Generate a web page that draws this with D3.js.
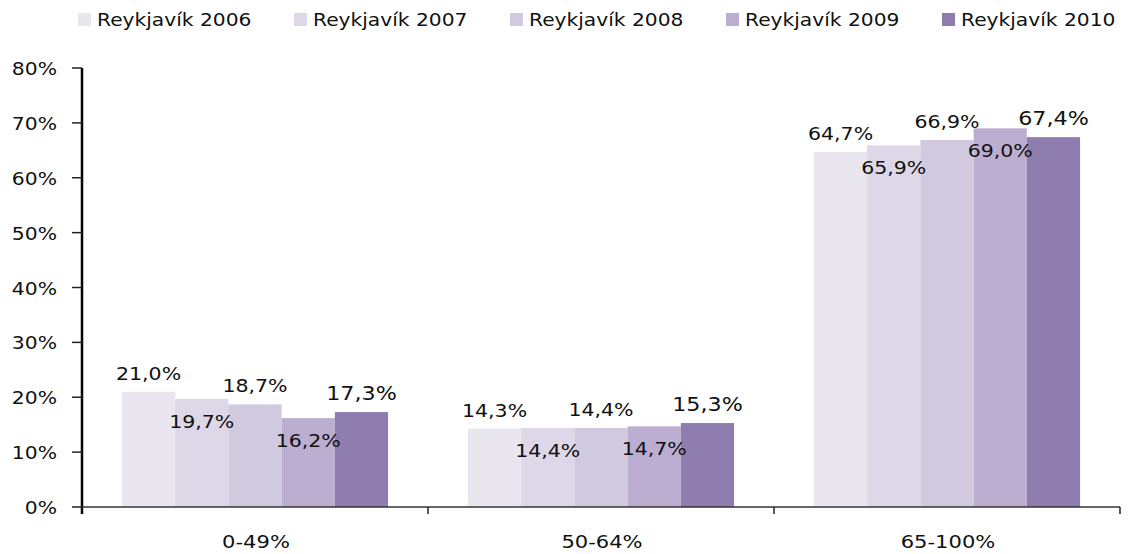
<!DOCTYPE html>
<html>
<head>
<meta charset="utf-8">
<script src="https://cdn.jsdelivr.net/npm/d3@7"></script>
<style>
  body { margin: 0; background: #fff; }
  svg text { font-family: "DejaVu Sans", Verdana, sans-serif; fill: #111; }
</style>
</head>
<body>
<svg id="chart" width="1130" height="554"></svg>
<script>
// data
const categories = ["0-49%", "50-64%", "65-100%"];
const seriesNames = ["Reykjavík 2006", "Reykjavík 2007", "Reykjavík 2008", "Reykjavík 2009", "Reykjavík 2010"];
const v2006 = [21.0, 14.3, 64.7];
const v2007 = [19.7, 14.4, 65.9];
const v2008 = [18.7, 14.4, 66.9];
const v2009 = [16.2, 14.7, 69.0];
const v2010 = [17.3, 15.3, 67.4];
const seriesValues = [v2006, v2007, v2008, v2009, v2010];
const yTicks = [0, 10, 20, 30, 40, 50, 60, 70, 80];

const colors = ["#eae6ef", "#ddd7e7", "#d1c9df", "#bcaed0", "#8f7db0"];

const svg = d3.select("#chart");

// plot area
const plotLeft = 82, plotRight = 1120, plotTop = 68, plotBottom = 507;

const x0 = d3.scaleBand().domain(categories).range([plotLeft, plotRight]).padding(0);
const x1 = d3.scaleBand().domain(seriesNames)
    .range([0, x0.bandwidth()]).paddingOuter(0.75).paddingInner(0);
const y = d3.scaleLinear().domain([0, 80]).range([plotBottom, plotTop]);

const fmt = v => v.toFixed(1).replace(".", ",") + "%";

// text stretched horizontally, like the original's wide font
function addText(parent, str, x, yPos, size, sx, anchor) {
    return parent.append("text").text(str)
        .attr("transform", `translate(${x},${yPos}) scale(${sx},1)`)
        .attr("font-size", size).attr("text-anchor", anchor || "start");
}

// bars
const g = svg.append("g");
seriesNames.forEach((name, si) => {
    g.selectAll(null).data(categories).enter().append("rect")
        .attr("x", (c) => x0(c) + x1(name))
        .attr("y", (c, i) => y(seriesValues[si][i]))
        .attr("width", x1.bandwidth())
        .attr("height", (c, i) => plotBottom - y(seriesValues[si][i]))
        .attr("fill", colors[si]);
});

// y axis
const yAxis = svg.append("g");
yAxis.append("line").attr("x1", plotLeft).attr("x2", plotLeft).attr("y1", plotTop).attr("y2", plotBottom + 7)
    .attr("stroke", "#000").attr("stroke-width", 2.5);
yTicks.forEach(t => {
    yAxis.append("line").attr("x1", plotLeft - 10).attr("x2", plotLeft).attr("y1", y(t)).attr("y2", y(t))
        .attr("stroke", "#222").attr("stroke-width", 1.5);
    addText(yAxis, t + "%", 57, y(t) + 7, 18, 1.13, "end");
});

// x axis
const xAxis = svg.append("g");
xAxis.append("line").attr("x1", plotLeft).attr("x2", plotRight).attr("y1", plotBottom).attr("y2", plotBottom)
    .attr("stroke", "#333").attr("stroke-width", 1.5);
categories.forEach(c => {
    const xr = x0(c) + x0.bandwidth();
    xAxis.append("line").attr("x1", xr).attr("x2", xr).attr("y1", plotBottom).attr("y2", plotBottom + 7)
        .attr("stroke", "#222").attr("stroke-width", 1.5);
    addText(xAxis, c, x0(c) + x0.bandwidth() / 2 + 1, 548, 18, 1.17, "middle");
});

// data labels: alternate above / below the bar top
const labels = svg.append("g");
seriesNames.forEach((name, si) => {
    const below = si % 2 === 1;
    const big = si === 4;
    categories.forEach((c, i) => {
        const v = seriesValues[si][i];
        addText(labels, fmt(v), x0(c) + x1(name) + x1.bandwidth() / 2,
            y(v) + (below ? 29 : -12), big ? 19.5 : 18, 1.14, "middle");
    });
});

// legend
const legend = svg.append("g");
seriesNames.forEach((name, si) => {
    const lx = 78 + si * 216;
    legend.append("rect").attr("x", lx).attr("y", 13).attr("width", 13).attr("height", 13)
        .attr("fill", colors[si]);
    addText(legend, name, lx + 19, 26, 17, 1.19);
});
</script>
</body>
</html>
